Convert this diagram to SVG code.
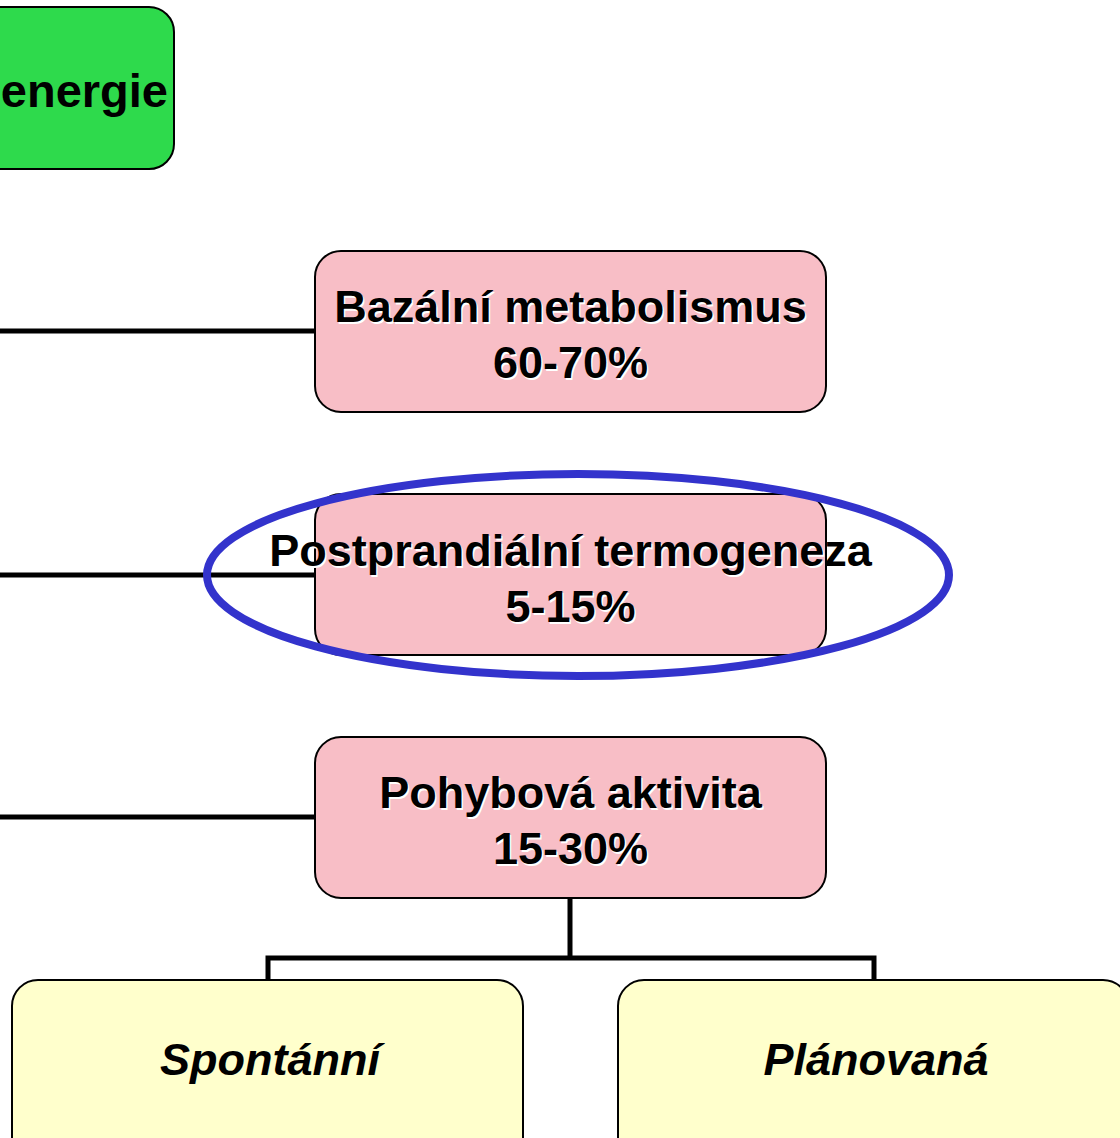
<svg xmlns="http://www.w3.org/2000/svg" width="1120" height="1138" viewBox="0 0 1120 1138">
<style>
.box{stroke:#000;stroke-width:2}
.green{fill:#2EDA4C}
.pink{fill:#F8BEC6}
.yellow{fill:#FFFFCC}
.t{font-family:"Liberation Sans",Arial,sans-serif;font-weight:bold;font-size:45px;text-anchor:middle;fill:#000}
.sh{fill:#fff}
.it{font-style:italic}
.conn{stroke:#000;stroke-width:5;fill:none}
</style>
<rect width="1120" height="1138" fill="#fff"/>
<g id="connectors">
<line class="conn" x1="0" y1="331" x2="316" y2="331"/>
<line class="conn" x1="0" y1="575" x2="316" y2="575"/>
<line class="conn" x1="0" y1="817" x2="316" y2="817"/>
<polyline class="conn" points="570,898 570,958"/>
<polyline class="conn" points="268,981 268,958 874,958 874,981"/>
</g>
<g id="node-energie">
<rect class="box green" x="-300" y="7" width="474" height="162" rx="25"/>
<text class="t" x="168" y="107" style="font-size:47px;text-anchor:end">energie</text>
</g>
<g id="node-bazalni">
<rect class="box pink" x="315" y="251" width="511" height="161" rx="26"/>
<text class="t sh" x="572" y="324">Bazální metabolismus</text>
<text class="t sh" x="572" y="380">60-70%</text>
<text class="t" x="570.5" y="322">Bazální metabolismus</text>
<text class="t" x="570.5" y="378">60-70%</text>
</g>
<g id="node-postprandialni">
<rect class="box pink" x="315" y="494" width="511" height="161" rx="26"/>
<text class="t sh" x="572" y="568">Postprandiální termogeneza</text>
<text class="t sh" x="572" y="624">5-15%</text>
<text class="t" x="570.5" y="566">Postprandiální termogeneza</text>
<text class="t" x="570.5" y="622">5-15%</text>
</g>
<g id="highlight">
<ellipse cx="578" cy="575" rx="371" ry="101" fill="none" stroke="#3333CC" stroke-width="8"/>
</g>
<g id="node-pohybova">
<rect class="box pink" x="315" y="737" width="511" height="161" rx="26"/>
<text class="t sh" x="572" y="810">Pohybová aktivita</text>
<text class="t sh" x="572" y="866">15-30%</text>
<text class="t" x="570.5" y="808">Pohybová aktivita</text>
<text class="t" x="570.5" y="864">15-30%</text>
</g>
<g id="node-spontanni">
<rect class="box yellow" x="12" y="980" width="511" height="200" rx="26"/>
<text class="t it" x="270" y="1075">Spontánní</text>
</g>
<g id="node-planovana">
<rect class="box yellow" x="618" y="980" width="511" height="200" rx="26"/>
<text class="t it" x="876" y="1075">Plánovaná</text>
</g>
</svg>
